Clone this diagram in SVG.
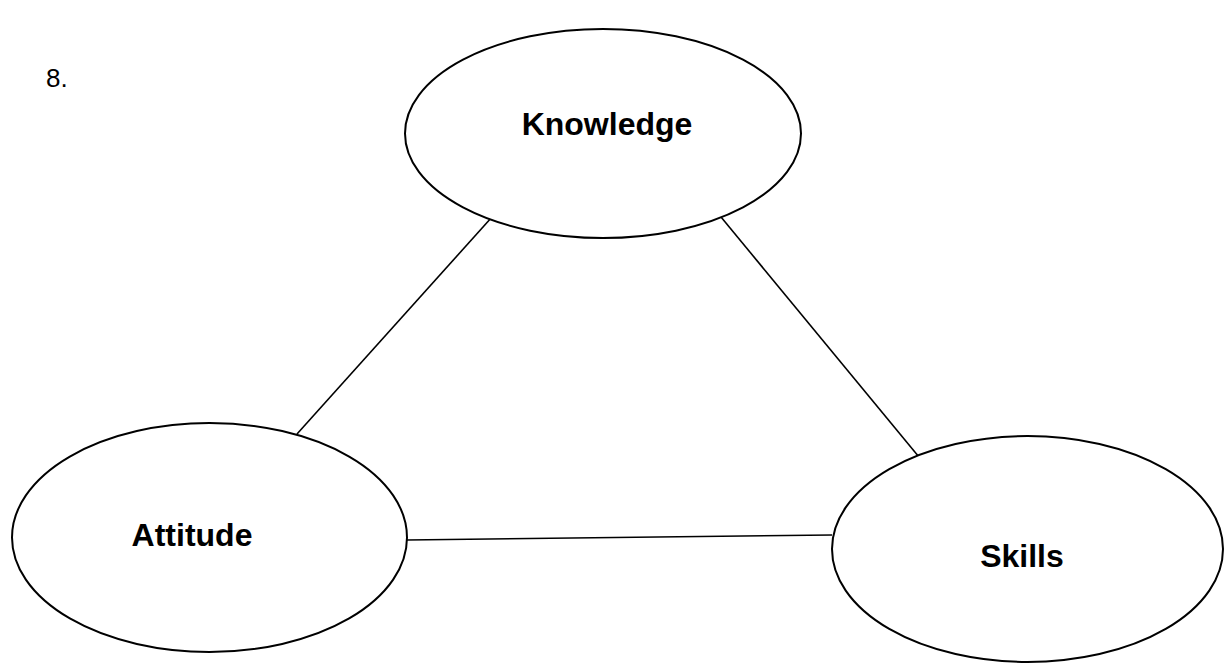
<svg xmlns="http://www.w3.org/2000/svg" width="1224" height="664" viewBox="0 0 1224 664">
<style>
.node{fill:#ffffff;stroke:#000000;stroke-width:2}
.conn{stroke:#000000;stroke-width:1.6;fill:none}
.lbl{font-family:"Liberation Sans",Arial,sans-serif;font-weight:bold;font-size:32px;fill:#000000;text-anchor:middle}
.num{font-family:"Liberation Sans",Arial,sans-serif;font-size:26px;fill:#000000}
</style>
<rect width="1224" height="664" fill="#ffffff"/>
<text class="num" x="46" y="87">8.</text>
<g id="connectors">
<line class="conn" x1="492" y1="217" x2="297" y2="434"/>
<line class="conn" x1="721" y1="217" x2="919" y2="457"/>
<line class="conn" x1="407" y1="540" x2="832" y2="535"/>
</g>
<g id="knowledge">
<ellipse class="node" cx="603" cy="133.5" rx="198" ry="104.5"/>
<text class="lbl" x="607" y="135">Knowledge</text>
</g>
<g id="attitude">
<ellipse class="node" cx="209.5" cy="537.5" rx="197.5" ry="114.5"/>
<text class="lbl" x="192" y="546">Attitude</text>
</g>
<g id="skills">
<ellipse class="node" cx="1027.5" cy="549" rx="195.5" ry="113"/>
<text class="lbl" x="1022" y="567">Skills</text>
</g>
</svg>
